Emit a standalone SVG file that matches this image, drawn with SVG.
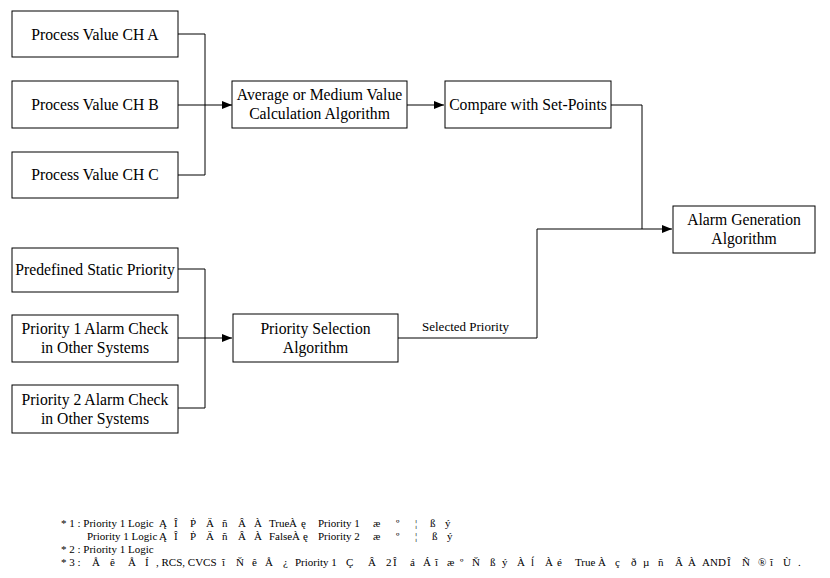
<svg xmlns="http://www.w3.org/2000/svg" width="830" height="578" viewBox="0 0 830 578">
<style>
.box{fill:#fff;stroke:#000;stroke-width:1}
.t{font-family:"Liberation Serif","Times New Roman",serif;font-size:15.7px;fill:#000;text-anchor:middle}
.c{fill:none;stroke:#000;stroke-width:1}
.s{font-family:"Liberation Serif","Times New Roman",serif;font-size:13px;fill:#000}
.n{font-family:"Liberation Serif","Times New Roman",serif;font-size:11px;fill:#000}
</style>
<defs>
<marker id="ah" markerWidth="10" markerHeight="8" refX="10" refY="4" orient="auto" markerUnits="userSpaceOnUse">
<path d="M0,0 L10,4 L0,8 z" fill="#000"/>
</marker>
</defs>
<rect width="830" height="578" fill="#fff"/>
<g id="connectors">
<path class="c" d="M178,34 H205 V175 H178"/>
<path class="c" d="M178,105 H232" marker-end="url(#ah)"/>
<path class="c" d="M407,105 H444" marker-end="url(#ah)"/>
<path class="c" d="M611,105 H642 V229"/>
<path class="c" d="M537,338 V229 H672" marker-end="url(#ah)"/>
<path class="c" d="M398,338 H537"/>
<path class="c" d="M178,269 H205 V408 H178"/>
<path class="c" d="M178,338 H232" marker-end="url(#ah)"/>
<text class="s" x="422" y="331">Selected Priority</text>
</g>
<g id="pvA"><rect class="box" x="12" y="11" width="166" height="46"/><text class="t" x="95" y="39.5">Process Value CH A</text></g>
<g id="pvB"><rect class="box" x="12" y="81" width="166" height="47"/><text class="t" x="95" y="109.5">Process Value CH B</text></g>
<g id="pvC"><rect class="box" x="12" y="152" width="166" height="46"/><text class="t" x="95" y="180">Process Value CH C</text></g>
<g id="avg"><rect class="box" x="232" y="81" width="175" height="47"/><text class="t" x="319.5" y="100">Average or Medium Value</text><text class="t" x="319.5" y="119">Calculation Algorithm</text></g>
<g id="cmp"><rect class="box" x="445" y="81" width="166" height="47"/><text class="t" x="528" y="109.5">Compare with Set-Points</text></g>
<g id="alarm"><rect class="box" x="673" y="206" width="142" height="47"/><text class="t" x="744" y="225">Alarm Generation</text><text class="t" x="744" y="244">Algorithm</text></g>
<g id="pre"><rect class="box" x="12" y="248" width="166" height="44"/><text class="t" x="95" y="275">Predefined Static Priority</text></g>
<g id="p1"><rect class="box" x="12" y="315" width="166" height="47"/><text class="t" x="95" y="334">Priority 1 Alarm Check</text><text class="t" x="95" y="353">in Other Systems</text></g>
<g id="p2"><rect class="box" x="12" y="385" width="166" height="48"/><text class="t" x="95" y="404.5">Priority 2 Alarm Check</text><text class="t" x="95" y="423.5">in Other Systems</text></g>
<g id="psel"><rect class="box" x="233" y="314" width="165" height="48"/><text class="t" x="315.5" y="333.5">Priority Selection</text><text class="t" x="315.5" y="352.5">Algorithm</text></g>
<g id="notes">
<text class="n" y="527"><tspan x="61">* 1 : Priority 1 Logic</tspan><tspan x="159">Ą</tspan><tspan x="174">Î</tspan><tspan x="190">Ṗ</tspan><tspan x="206">Ä</tspan><tspan x="222">ñ</tspan><tspan x="238">Â</tspan><tspan x="254">À</tspan><tspan x="269">True</tspan><tspan x="289">À</tspan><tspan x="301">ę</tspan><tspan x="318">Priority 1</tspan><tspan x="373">æ</tspan><tspan x="396">º</tspan><tspan x="415">¦</tspan><tspan x="430">ß</tspan><tspan x="445">ý</tspan></text>
<text class="n" y="540"><tspan x="87">Priority 1 Logic</tspan><tspan x="159">Ą</tspan><tspan x="174">Î</tspan><tspan x="190">Ṗ</tspan><tspan x="206">Ä</tspan><tspan x="222">ñ</tspan><tspan x="238">Â</tspan><tspan x="254">À</tspan><tspan x="269">False</tspan><tspan x="292">À</tspan><tspan x="303">ę</tspan><tspan x="318">Priority 2</tspan><tspan x="373">æ</tspan><tspan x="396">º</tspan><tspan x="415">¦</tspan><tspan x="432">ß</tspan><tspan x="447">ý</tspan></text>
<text class="n" y="553"><tspan x="61">* 2 : Priority 1 Logic</tspan></text>
<text class="n" y="566"><tspan x="61">* 3 : </tspan><tspan x="92">Å</tspan><tspan x="110">ê</tspan><tspan x="128">Å</tspan><tspan x="145">Í</tspan><tspan x="156">, RCS, CVCS</tspan><tspan x="222">ĩ</tspan><tspan x="236">Ň</tspan><tspan x="252">ê</tspan><tspan x="265">Å</tspan><tspan x="283">¿</tspan><tspan x="295">Priority 1</tspan><tspan x="346">Ç</tspan><tspan x="368">Â</tspan><tspan x="386">2</tspan><tspan x="393">Î</tspan><tspan x="410">á</tspan><tspan x="423">Á</tspan><tspan x="435">ĩ</tspan><tspan x="447">æ</tspan><tspan x="460">º</tspan><tspan x="472">Ň</tspan><tspan x="490">ß</tspan><tspan x="502">ý</tspan><tspan x="517">À</tspan><tspan x="531">ĺ</tspan><tspan x="545">À</tspan><tspan x="557">é</tspan><tspan x="575">True</tspan><tspan x="598">À</tspan><tspan x="615">ç</tspan><tspan x="631">ð</tspan><tspan x="643">µ</tspan><tspan x="658">ñ</tspan><tspan x="675">Â</tspan><tspan x="688">À</tspan><tspan x="702">AND</tspan><tspan x="727">Î</tspan><tspan x="742">Ñ</tspan><tspan x="758">®</tspan><tspan x="770">ĩ</tspan><tspan x="783">Ù</tspan><tspan x="798">.</tspan></text>
</g>
</svg>
